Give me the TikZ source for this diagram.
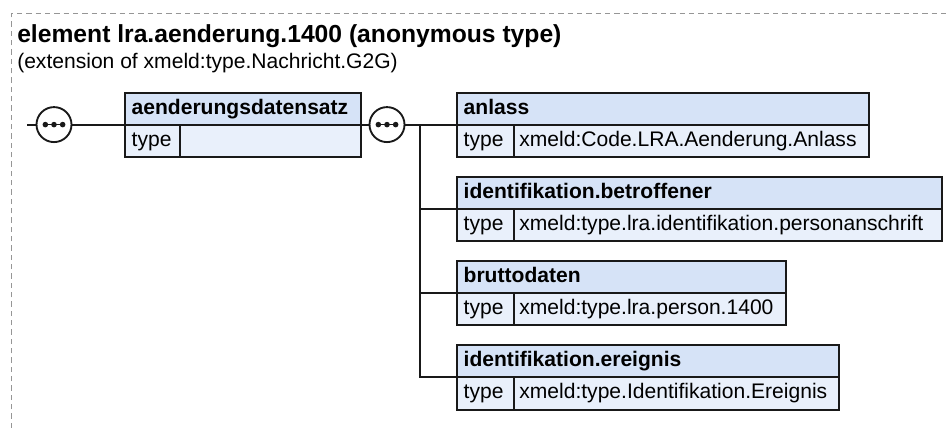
\documentclass[tikz,border=0pt]{standalone}
\usepackage{fontspec}
\setmainfont{Liberation Sans}
\definecolor{hdrfill}{RGB}{214,227,247}
\definecolor{rowfill}{RGB}{233,240,251}
\definecolor{boxline}{RGB}{25,25,25}
\definecolor{framegray}{RGB}{150,150,150}
\tikzset{
  txt/.style={font=\fontsize{15.8pt}{18pt}\selectfont},
  hdr/.style={draw=boxline, fill=hdrfill, line width=1.4pt, anchor=north west, outer sep=0pt,
    minimum height=23.85pt, inner ysep=0pt, inner xsep=5pt, text height=11pt, text depth=3pt,
    font=\fontsize{15.8pt}{18pt}\selectfont\bfseries},
  typecell/.style={txt, draw=boxline, fill=rowfill, line width=1.4pt, anchor=north west, outer sep=0pt,
    minimum height=24.3pt, inner ysep=0pt, inner xsep=5pt, text height=11pt, text depth=3pt},
  valcell/.style={typecell, inner xsep=4pt},
  seqc/.style={circle, draw=boxline, fill=white, line width=1.4pt, minimum size=26.25pt, inner sep=0pt, outer sep=0pt},
  conn/.style={draw=boxline, line width=1.4pt},
  frame/.style={draw=framegray, line width=0.75pt, dash pattern=on 4pt off 3pt}
}
% name, x, y, header text width, type text width, value text width, header, value
\newcommand\elembox[8]{%
  \node[hdr] (#1) at (#2,#3) {\makebox[#4][l]{#7}};
  \node[typecell] (#1-t) at (#1.south west) {\makebox[#5][l]{type}};
  \node[valcell] (#1-v) at (#1-t.north east) {\makebox[#6][l]{#8}};
}
\newcommand\seqdots[1]{%
  \draw[boxline, line width=0.9pt] ([xshift=-6.5pt]#1.center) -- ([xshift=6.5pt]#1.center);
  \fill[boxline] ([xshift=-6.5pt]#1.center) circle (2.1pt);
  \fill[boxline] (#1.center) circle (2.1pt);
  \fill[boxline] ([xshift=6.5pt]#1.center) circle (2.1pt);
}
\begin{document}
\begin{tikzpicture}[x=0.75pt, y=-0.75pt]
\useasboundingbox (0,0) rectangle (949,428);
\fill[white] (0,0) rectangle (949,428);
\coordinate (fbl) at (11,428);
\coordinate (ftl) at (11,14);
\coordinate (ftr) at (949,14);
\draw[frame] (fbl) -- (ftl) -- (ftr);

\node[anchor=base west, inner sep=0pt, font=\fontsize{18.5pt}{22pt}\selectfont\bfseries] (title) at (17,43)
  {element lra.aenderung.1400 (anonymous type)};
\node[anchor=base west, inner sep=0pt, txt] (sub) at (17,68.5)
  {(extension of xmeld:type.Nachricht.G2G)};

% boxes
\elembox{ads}{125}{92.8}{167pt}{31.25pt}{127.75pt}{aenderungsdatensatz}{}
\elembox{anl}{457}{92.8}{299pt}{32.75pt}{258.25pt}{anlass}{xmeld:Code.LRA.Aenderung.Anlass}
\elembox{bet}{457}{177}{353.75pt}{32.75pt}{313pt}{identifikation.betroffener}{xmeld:type.lra.identifikation.personanschrift}
\elembox{bru}{457}{261.2}{236.75pt}{32.75pt}{196pt}{bruttodaten}{xmeld:type.lra.person.1400}
\elembox{ere}{457}{345.4}{276.5pt}{32.75pt}{235.75pt}{identifikation.ereignis}{xmeld:type.Identifikation.Ereignis}

% sequence compositors
\coordinate (start) at (27,124.6);
\node[seqc] (s1) at (54,124.6) {};
\node[seqc] (s2) at (387,124.6) {};
\coordinate (jn) at (420,124.6);

\draw[conn] (start) -- (s1.west);
\draw[conn] (s1.east) -- (ads.south west);
\draw[conn] (ads.south east) -- (s2.west);
\draw[conn] (s2.east) -- (anl.south west);
\draw[conn] (jn) |- (bet.south west);
\draw[conn] (jn) |- (bru.south west);
\draw[conn] (jn) |- (ere.south west);

\seqdots{s1}
\seqdots{s2}
\end{tikzpicture}
\end{document}
